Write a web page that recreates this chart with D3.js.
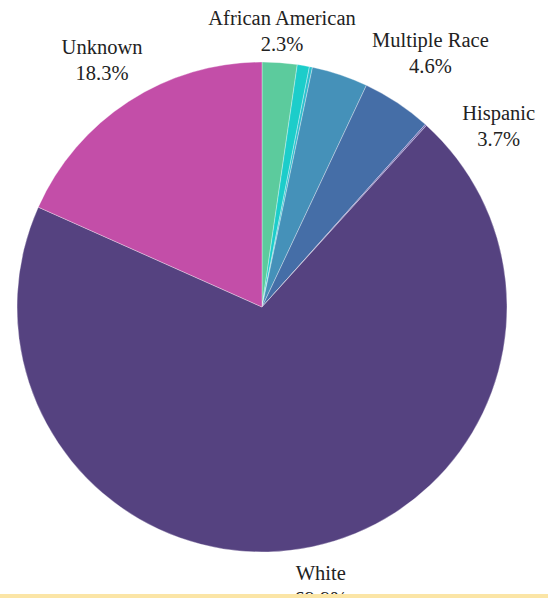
<!DOCTYPE html>
<html>
<head>
<meta charset="utf-8">
<script src="https://cdn.jsdelivr.net/npm/d3@7"></script>
<style>
  html, body { margin: 0; padding: 0; background: #fff; }
  svg { display: block; }
  text { font-family: "Liberation Serif", "DejaVu Serif", serif; fill: #222; }
</style>
</head>
<body>
<svg id="chart" width="548" height="598"></svg>
<script>
// Share of enrolment by race / ethnicity (percent)
const categories = ["African American", "Asian", "Pacific Islander", "Hispanic", "Multiple Race", "American Indian", "White", "Unknown"];
const shares     = [2.3, 0.8, 0.2, 3.7, 4.6, 0.1, 69.9, 18.3];
const colors     = ["#5ccb9d", "#1ccdca", "#2cbfce", "#4591b9", "#456ea7", "#6b62b0", "#554280", "#c34ea8"];
// only the larger groups carry a text label
const labelled   = ["African American", "Hispanic", "Multiple Race", "White", "Unknown"];

// label placement: radius and angular shift (degrees) per label
const labelLayout = {
  "African American": { r: 277, shift: 0 },
  "Hispanic":         { r: 298, shift: 34 },
  "Multiple Race":    { r: 305, shift: 0 },
  "White":            { r: 285, shift: 0 },
  "Unknown":          { r: 294, shift: 0 }
};

const width = 548, height = 598;
const cx = 262, cy = 307, radius = 245;

const data = categories.map((c, i) => ({ name: c, value: shares[i], color: colors[i] }));

const svg = d3.select("#chart");
const g = svg.append("g").attr("transform", `translate(${cx},${cy})`);

const pie = d3.pie().sort(null).value(d => d.value);
const arc = d3.arc().innerRadius(0).outerRadius(radius);
const arcs = pie(data);

g.selectAll("path.slice")
  .data(arcs)
  .join("path")
  .attr("class", "slice")
  .attr("d", arc)
  .attr("fill", d => d.data.color)
  .attr("stroke", "#ffffff")
  .attr("stroke-opacity", 0.55)
  .attr("stroke-width", 0.6);

const fmt = v => v.toFixed(1) + "%";

const labels = g.selectAll("g.label")
  .data(arcs.filter(d => labelled.includes(d.data.name)))
  .join("g")
  .attr("class", "label")
  .attr("transform", d => {
    const L = labelLayout[d.data.name];
    const a = (d.startAngle + d.endAngle) / 2 + L.shift * Math.PI / 180;
    return `translate(${L.r * Math.sin(a)},${-L.r * Math.cos(a)})`;
  });

labels.append("text")
  .attr("text-anchor", "middle")
  .attr("dominant-baseline", "central")
  .attr("y", -13)
  .attr("font-size", 20.5)
  .text(d => d.data.name);

labels.append("text")
  .attr("text-anchor", "middle")
  .attr("dominant-baseline", "central")
  .attr("y", 13)
  .attr("font-size", 20.5)
  .text(d => fmt(d.data.value));

// footer band along the bottom edge
svg.append("rect")
  .attr("x", 0).attr("y", 594)
  .attr("width", width).attr("height", height - 594)
  .attr("fill", "#fbe5a6");
</script>
</body>
</html>
